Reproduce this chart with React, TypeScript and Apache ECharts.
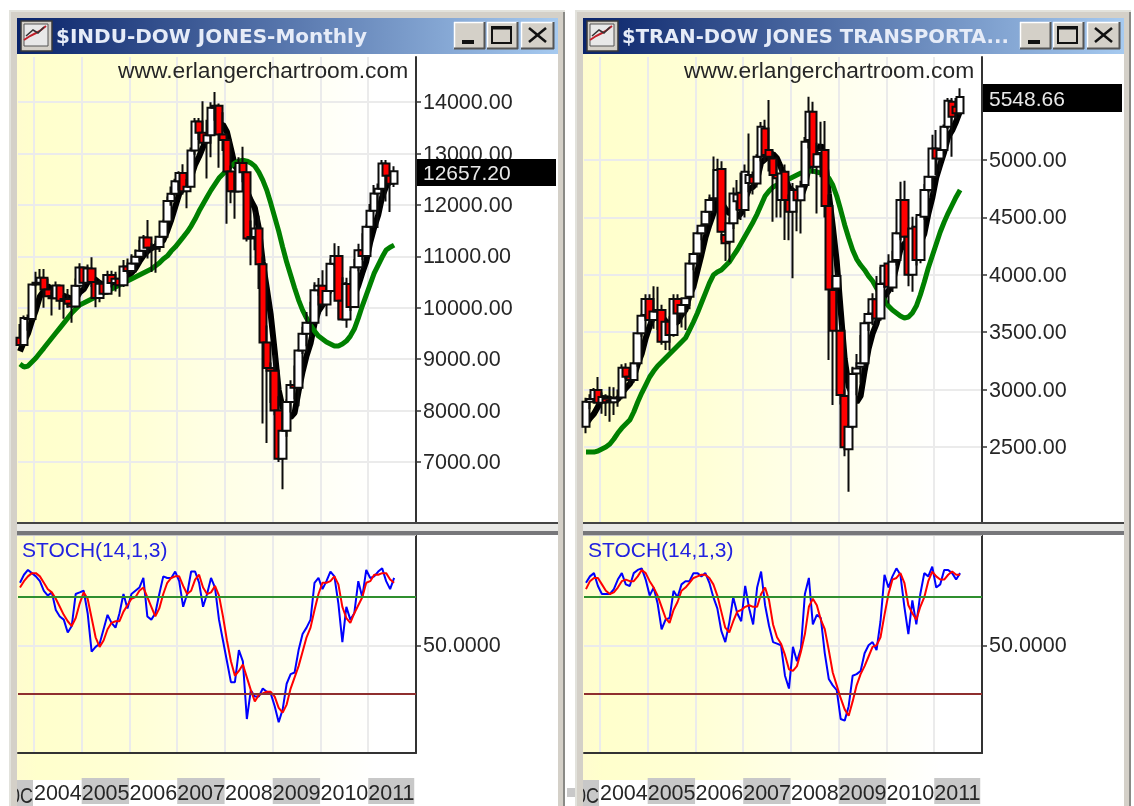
import React, { useEffect, useRef } from "react";
import * as echarts from "echarts";

// Each row: open, close, low, high
const induOHLC: number[][] = [
  [9416,9275,9250,9686],[9275,9801,9275,9853],[9801,9782,9555,9872],[9782,10453,9752,10454],
  [10453,10488,10418,10702],[10488,10583,10451,10754],[10583,10357,10000,10754],[10357,10225,10204,10570],
  [10225,10188,9852,10320],[10188,10435,10188,10514],[10435,10139,9961,10437],[10139,10173,9785,10243],
  [10173,10080,10000,10368],[10080,10027,9708,10239],[10027,10428,10027,10572],[10428,10783,10428,10868],
  [10783,10489,10368,10800],[10489,10766,10489,10842],[10766,10503,10405,10984],[10503,10192,10012,10570],
  [10192,10467,10109,10542],[10467,10275,10248,10656],[10275,10640,10275,10720],[10640,10481,10397,10719],
  [10481,10568,10319,10702],[10568,10440,10216,10568],[10440,10805,10406,10931],[10805,10717,10661,10959],
  [10717,10864,10667,11043],[10864,10993,10689,11137],[10993,11109,10901,11317],[11109,11367,11013,11418],
  [11367,11168,10961,11709],[11168,11150,10699,11258],[11150,11185,10683,11309],[11185,11381,11084,11382],
  [11381,11679,11362,11717],[11679,12080,11670,12167],[12080,12221,11986,12361],[12221,12463,12181,12511],
  [12463,12621,12282,12658],[12621,12268,12203,12795],[12268,12354,11939,12505],[12354,13062,12354,13121],
  [13062,13627,12980,13692],[13627,13408,13266,13692],[13408,13211,13205,14021],[13211,13357,12518,13657],
  [13357,13895,12930,14000],[13895,13930,13639,14198],[13930,13371,12724,13977],[13371,13264,13052,13803],
  [13264,12650,11635,13279],[12650,12266,12035,12767],[12266,12262,11731,12622],[12262,12820,12266,12930],
  [12820,12638,12443,13136],[12638,11350,11288,12638],[11350,11378,10827,11698],[11378,11543,11118,11867],
  [11543,10850,10365,11790],[10850,9325,7750,11000],[9325,8829,7370,9654],[8829,8776,8149,8934],
  [8776,8000,7909,9088],[8000,7062,7000,8280],[7062,7608,6469,7954],[7608,8168,7490,8221],
  [8168,8500,7961,8589],[8500,8447,8221,8878],[8447,9171,8087,9198],[9171,9496,9102,9630],
  [9496,9712,9252,9918],[9712,9712,9430,10119],[9712,10344,9678,10496],[10344,10428,10235,10580],
  [10428,10067,10025,10730],[10067,10325,9835,10401],[10325,10856,10325,10955],[10856,11008,10808,11258],
  [11008,10136,9774,11205],[10136,9774,9757,10594],[9774,10465,9614,10584],[10465,10014,9937,10720],
  [10014,10788,10014,10948],[10788,11118,10711,11245],[11118,11006,10929,11451],[11006,11577,11006,11625],
  [11577,11891,11576,12020],[11891,12226,11892,12391],[12226,12319,11555,12418],[12319,12810,12093,12876],
  [12810,12569,12071,12876],[12569,12414,11862,12569],[12414,12657,12350,12753],
];

const induFast = [9152,9342,9501,9745,9960,10221,10333,10421,10368,10358,10269,10232,10203,10171,10169,10298,10361,10499,10594,10547,10483,10441,10415,10411,10486,10481,10587,10602,10679,10764,10898,11010,11100,11157,11196,11250,11313,11495,11709,11965,12213,12331,12385,12554,12786,12944,13132,13333,13500,13560,13553,13563,13422,13096,12763,12652,12527,12267,12090,11946,11552,10889,10385,9865,9156,8398,8055,7923,7868,7957,8379,8756,9065,9308,9687,9938,10053,10175,10404,10537,10478,10420,10448,10279,10235,10432,10678,10901,11276,11564,11804,12165,12363,12468,12554];

const induSlow = [8906,8848,8867,8945,9023,9120,9217,9315,9412,9509,9606,9703,9800,9898,9976,10054,10092,10131,10170,10209,10248,10287,10326,10365,10404,10443,10481,10520,10559,10598,10637,10676,10715,10754,10812,10870,10948,11007,11104,11182,11279,11376,11474,11590,11726,11882,12018,12154,12290,12407,12524,12602,12680,12757,12816,12855,12874,12855,12816,12757,12640,12485,12290,12038,11765,11493,11182,10890,10637,10384,10151,9956,9800,9665,9548,9450,9392,9334,9295,9256,9256,9295,9353,9450,9587,9800,10034,10248,10462,10676,10832,10987,11123,11180,11220];

const induK = [89,94,97,95,93,90,84,81,83,72,68,66,58,62,82,83,84,70,46,49,51,60,69,64,61,70,82,73,82,84,86,92,68,66,70,82,93,92,92,96,90,74,82,96,96,89,74,82,92,86,66,53,40,27,27,47,40,4,22,18,18,23,21,20,12,2,10,26,32,33,47,57,61,66,89,92,85,90,96,93,76,52,74,66,70,90,80,97,92,93,96,98,90,85,92];

const induD = [86,90,93,95,95,93,89,85,83,79,74,69,65,62,67,76,83,79,67,55,49,53,60,64,65,65,71,75,79,80,84,86,80,74,68,73,82,89,92,93,93,87,82,84,91,94,86,82,83,87,81,68,53,40,31,34,38,30,22,15,19,20,21,21,18,11,8,13,23,30,37,46,55,61,72,82,89,89,90,93,88,74,67,64,70,75,80,89,90,94,94,95,95,91,89];

const tranOHLC: number[][] = [
  [2677,2895,2620,2930],[2895,2918,2830,2960],[2918,2996,2880,3015],[2996,2886,2870,3110],
  [2886,2935,2790,2975],[2920,2890,2770,2960],[2890,2900,2720,3025],[2890,2925,2780,3020],
  [2925,2932,2850,3000],[2932,3191,2925,3220],[3191,3112,3090,3230],[3112,3083,3040,3170],
  [3083,3229,3060,3240],[3229,3490,3200,3500],[3490,3644,3460,3660],[3649,3789,3620,3830],
  [3789,3606,3570,3830],[3606,3680,3530,3900],[3680,3693,3520,3896],[3693,3417,3390,3740],
  [3417,3591,3345,3620],[3591,3475,3340,3640],[3475,3789,3460,3830],[3789,3664,3560,3830],
  [3664,3737,3540,3760],[3737,3795,3520,3800],[3809,4099,3700,4130],[4099,4181,4040,4200],
  [4186,4361,4100,4380],[4361,4427,4300,4440],[4440,4549,4370,4560],[4549,4651,4450,4700],
  [4651,4666,4550,5030],[4666,4912,4640,5010],[4921,4375,4300,4990],[4346,4274,4120,4400],
  [4288,4448,4110,4500],[4448,4709,4400,4760],[4640,4700,4560,4825],[4715,4564,4477,4890],
  [4564,4898,4500,4960],[4800,4870,4720,5230],[4854,4796,4700,4900],[4796,5029,4760,5050],
  [5029,5290,4990,5330],[5275,5043,4980,5350],[5087,5029,4900,5522],[5014,4869,4462,5080],
  [4869,4840,4500,5000],[4651,4883,4500,4950],[4898,4651,4303,4960],[4651,4550,4300,4700],
  [4550,4738,3970,4800],[4738,4650,4380,4780],[4650,4770,4360,4820],[4782,5159,4760,5200],
  [5174,5420,5100,5551],[5420,4941,4880,5508],[4941,5050,4535,5150],[5060,5087,4850,5333],
  [5087,4600,4500,5340],[4600,3873,3258,4700],[3867,3513,2866,3960],[3880,3990,3500,4020],
  [3513,2953,2870,3560],[2944,2497,2420,3000],[2480,2677,2111,2700],[2677,3136,2660,3200],
  [3141,3185,2950,3310],[3200,3229,3060,3475],[3229,3577,3220,3600],[3583,3658,3510,3680],
  [3664,3786,3560,3840],[3786,3620,3550,3990],[3620,3920,3600,4070],[3925,4079,3890,4080],
  [4099,3896,3750,4180],[3890,4114,3850,4210],[4128,4361,4080,4380],[4361,4651,4300,4811],
  [4651,4332,4280,4820],[4332,4000,3900,4410],[4000,4404,3853,4505],[4419,4128,4080,4500],
  [4128,4521,4100,4540],[4506,4738,4480,4790],[4738,4854,4720,4860],[4854,5101,4700,5220],
  [5101,5014,4870,5261],[5014,5087,4900,5100],[5087,5290,5080,5310],[5290,5516,5270,5540],
  [5508,5377,5029,5540],[5464,5406,5360,5540],[5406,5548.66,5390,5624],
];

const tranFast = [2700,2750,2790,2850,2926,2925,2921,2907,2916,2968,3012,3049,3109,3221,3312,3447,3552,3642,3682,3637,3597,3571,3593,3587,3651,3692,3817,3895,4035,4173,4323,4434,4531,4641,4631,4576,4535,4544,4501,4539,4664,4748,4766,4831,4977,5006,5037,5052,5014,4933,4854,4759,4732,4694,4672,4773,4947,4988,5068,5131,5020,4710,4425,4115,3688,3267,3028,2953,2890,2945,3161,3357,3487,3574,3712,3813,3860,3926,4074,4220,4271,4292,4350,4303,4277,4358,4529,4668,4846,4959,5069,5202,5257,5335,5427];

const tranSlow = [2456,2456,2456,2465,2483,2500,2526,2570,2622,2665,2700,2735,2805,2892,2970,3040,3110,3162,3206,3240,3275,3310,3345,3380,3415,3449,3519,3589,3667,3754,3841,3928,3998,4024,4042,4077,4111,4164,4216,4277,4338,4399,4460,4529,4608,4686,4730,4765,4782,4799,4817,4834,4852,4869,4886,4895,4904,4904,4895,4886,4869,4843,4782,4686,4564,4434,4320,4216,4137,4085,4042,3989,3946,3885,3824,3780,3728,3693,3667,3641,3624,3632,3667,3728,3824,3937,4059,4164,4268,4373,4460,4538,4608,4678,4739];

const tranK = [89,93,95,87,82,82,82,85,91,95,88,87,95,97,98,91,81,86,76,60,66,67,84,80,88,90,90,95,95,93,95,89,80,73,59,52,64,80,70,65,87,73,63,86,96,75,62,52,51,50,31,23,49,40,48,82,92,63,69,67,45,29,25,22,4,3,12,31,32,34,45,50,52,47,65,94,86,93,98,94,74,57,78,63,82,95,93,99,86,88,97,97,95,91,95];

const tranD = [85,90,92,92,88,84,82,83,86,90,91,90,90,93,97,95,90,86,81,74,67,64,72,77,84,86,89,92,93,94,94,92,88,81,71,61,58,65,71,72,74,75,74,74,82,86,78,63,55,51,44,35,34,37,46,57,74,79,75,66,60,47,33,25,17,10,6,15,25,32,37,43,49,50,55,69,82,91,92,95,89,75,70,66,74,80,90,96,93,91,91,94,96,94,94];

const months = Array.from({ length: 100 }, (_, i) => `m${i}`);
const labelSlots = Array.from({ length: 101 }, (_, i) => `s${i}`);
const yearStarts = [4, 16, 28, 40, 52, 64, 76, 88];
const yearLabels: Record<number, string> = { 4: "2004", 16: "2005", 28: "2006", 40: "2007", 52: "2008", 64: "2009", 76: "2010", 88: "2011" };
const shadedYears = [16, 40, 64, 88];
const clippedLabel = "0C";
const induTicks = [7000, 8000, 9000, 10000, 11000, 12000, 13000, 14000];
const tranTicks = [2500, 3000, 3500, 4000, 4500, 5000];
const stochTicks = [50];
const stochBands = [80, 20];

const F = "'Liberation Sans', Arial, sans-serif";
const TXT = "#262626";
const GRID = "#ebebeb";
const AXIS = "#333333";

const bgGradient = () =>
  new echarts.graphic.LinearGradient(0, 0, 1, 0, [
    { offset: 0, color: "#fffccf" },
    { offset: 0.05, color: "#ffffcc" },
    { offset: 0.3, color: "#ffffd6" },
    { offset: 0.48, color: "#ffffe4" },
    { offset: 0.72, color: "#fffff2" },
    { offset: 0.9, color: "#ffffff" },
    { offset: 1, color: "#ffffff" },
  ]);

function windowChrome(dx: number, title: string, titleSize: number, lastValue: string, tagTop: number, tagH: number): any[] {
  const c: any[] = [];
  const R = (x: number, y: number, w: number, h: number, fill: any, z = -2, extra: any = {}) =>
    c.push({ type: "rect", shape: { x: x + dx, y, width: w, height: h }, style: { fill, ...extra }, z, silent: true });
  const L = (x1: number, y1: number, x2: number, y2: number, stroke: string, lineWidth: number, z = 5) =>
    c.push({ type: "line", shape: { x1: x1 + dx, y1, x2: x2 + dx, y2 }, style: { stroke, lineWidth }, z, silent: true });

  R(9, 10, 556, 796, "#e2e2dc");
  R(11, 12, 554, 794, "#d4d0c8");
  R(17, 18, 541, 788, "#ffffff");
  R(563, 12, 2, 794, "#8a8a86");
  // title bar
  R(17, 18, 541, 36, new echarts.graphic.LinearGradient(0, 0, 1, 0, [
    { offset: 0, color: "#0a246a" },
    { offset: 1, color: "#a6caf0" },
  ]));
  // icon
  R(21, 21, 31, 30, "#d4d0c8", -1, { stroke: "#3a3a3a", lineWidth: 1.5 });
  R(24, 24, 24, 22, "#e8e8e8", -1, { stroke: "#555", lineWidth: 1 });
  c.push({ type: "polyline", shape: { points: [[24 + dx, 40], [30 + dx, 36], [36 + dx, 33], [41 + dx, 30], [46 + dx, 26]] }, style: { stroke: "#c0202a", lineWidth: 2, fill: "none" }, z: -1, silent: true });
  c.push({ type: "polyline", shape: { points: [[26 + dx, 36], [33 + dx, 30], [38 + dx, 33], [44 + dx, 27]] }, style: { stroke: "#333", lineWidth: 1.5, fill: "none" }, z: -1, silent: true });
  c.push({
    type: "text", x: 56 + dx, y: 36, z: 6, silent: true,
    style: { text: title, fill: "#e6ecf8", fontFamily: "'DejaVu Sans', sans-serif", fontWeight: "bold", fontSize: titleSize, verticalAlign: "middle", align: "left" },
  });
  // buttons
  const btn = (x: number, w: number) => {
    R(x, 22, w, 27, "#d4d0c8", -1);
    L(x, 22.5, x + w, 22.5, "#ffffff", 1.5);
    L(x + 0.5, 22, x + 0.5, 49, "#ffffff", 1.5);
    L(x, 48.5, x + w, 48.5, "#555555", 2);
    L(x + w - 0.5, 22, x + w - 0.5, 49, "#555555", 2);
  };
  btn(454, 31);
  btn(487, 31);
  btn(521, 33);
  R(462, 40, 12, 4, "#111", 6);
  c.push({ type: "rect", shape: { x: 492 + dx, y: 27, width: 19, height: 16 }, style: { fill: "none", stroke: "#111", lineWidth: 2 }, z: 6, silent: true });
  L(492, 28, 511, 28, "#111", 3, 6);
  L(529, 28, 546, 42, "#111", 2.5, 6);
  L(546, 28, 529, 42, "#111", 2.5, 6);

  // pane backgrounds
  const paneBg = (y: number, h: number) =>
    c.push({ type: "rect", shape: { x: 17 + dx, y, width: 399, height: h }, style: { fill: bgGradient() }, z: -1, silent: true });
  paneBg(54, 468);
  paneBg(535, 245);

  // splitter
  R(17, 524, 541, 7, "#e9e9e6", 6);
  R(17, 531, 541, 4, "#77777a", 6);
  R(17, 522, 541, 2, "#444444", 6);
  R(17, 535, 399, 1, "#c8c8c8", 6);

  // watermark
  c.push({
    type: "text", x: 118 + dx, y: 70, z: 6, silent: true,
    style: { text: "www.erlangerchartroom.com", fill: TXT, fontFamily: F, fontSize: 22.8, verticalAlign: "middle", align: "left" },
  });
  // legend of lower pane
  c.push({
    type: "text", x: 22 + dx, y: 549, z: 6, silent: true,
    style: { text: "STOCH(14,1,3)", fill: "#2222e0", fontFamily: F, fontSize: 21, verticalAlign: "middle", align: "left" },
  });
  // clipped first year label, whose left part runs under the window frame
  R(17, 780, 16, 26, "#c8c8c8", -1);
  c.push({
    type: "text", x: 10 + dx, y: 795, z: -0.5, silent: true, scaleY: 1.2,
    style: { text: clippedLabel, fill: TXT, fontFamily: F, fontSize: 18, verticalAlign: "middle", align: "left" },
  });
  R(9, 770, 2, 36, "#e2e2dc", 0);
  R(11, 770, 6, 36, "#d4d0c8", 0);
  // last value tag
  c.push({ type: "rect", shape: { x: 417 + dx, y: tagTop, width: 139, height: tagH }, style: { fill: "#000" }, z: 50, silent: true });
  c.push({
    type: "text", x: 423 + dx, y: tagTop + tagH / 2, z: 51, silent: true,
    style: { text: lastValue, fill: "#e8e8e8", fontFamily: F, fontSize: 21, verticalAlign: "middle", align: "left" },
  });
  return c;
}

function panes(idx: number, dx: number, ohlc: number[][], fast: number[], slow: number[], k: number[], d: number[], ticks: number[], min: number, max: number) {
  const ax = idx * 3;
  const ay = idx * 2;
  const gm = idx * 2;
  const gs = gm + 1;
  const isYear = (i: number) => yearStarts.includes(i);
  const vGrid = { show: true, interval: (i: number) => isYear(i), lineStyle: { color: GRID, width: 2 } };
  const yLabel = (digits: number) => ({
    fontFamily: F, fontSize: 21.5, color: TXT, margin: 7,
    formatter: (v: number) => v.toFixed(digits),
  });
  const grids = [
    { left: 18 + dx, top: 57, width: 398, height: 465 },
    { left: 18 + dx, top: 535, width: 398, height: 218 },
  ];
  const xAxes = [
    { type: "category", gridIndex: gm, data: months, position: "bottom", boundaryGap: true, axisLabel: { show: false }, axisTick: { show: false }, axisLine: { show: false }, splitLine: vGrid },
    { type: "category", gridIndex: gs, data: months, position: "bottom", boundaryGap: true, axisLabel: { show: false }, axisTick: { show: false }, axisLine: { show: true, onZero: false, lineStyle: { color: AXIS, width: 2 } }, splitLine: vGrid },
    {
      type: "category", gridIndex: gs, data: labelSlots, position: "bottom", boundaryGap: false,
      axisLine: { show: false }, axisTick: { show: false }, splitLine: { show: false },
      axisLabel: {
        show: true, margin: 27, align: "left", verticalAlign: "top", showMinLabel: true, showMaxLabel: true,
        interval: (i: number) => yearLabels[i] !== undefined,
        formatter: (_: string, i: number) => `{${i === 88 ? "l" : shadedYears.includes(i) ? "g" : "w"}|${yearLabels[i]}}`,
        rich: {
          g: { width: 47.4, height: 22, lineHeight: 22, padding: [4, 0, 0, 0], backgroundColor: "#c8c8c8", fontFamily: F, fontSize: 21.5, color: TXT, align: "left" },
          w: { width: 47.4, height: 22, lineHeight: 22, padding: [4, 0, 0, 0], fontFamily: F, fontSize: 21.5, color: TXT, align: "left" },
          l: { width: 46, height: 22, lineHeight: 22, padding: [4, 0, 0, 0], backgroundColor: "#c8c8c8", fontFamily: F, fontSize: 21.5, color: TXT, align: "left" },
        },
      },
    },
  ];
  const yAxes = [
    {
      type: "value", gridIndex: gm, position: "right", min, max, scale: true,
      axisLine: { show: true, onZero: false, lineStyle: { color: AXIS, width: 2 } },
      axisTick: { show: true, length: 5, lineStyle: { color: AXIS, width: 1.5 }, customValues: ticks },
      axisLabel: { ...yLabel(2), customValues: ticks },
      splitLine: { show: true, lineStyle: { color: GRID, width: 2 } },
    },
    {
      type: "value", gridIndex: gs, position: "right", min: -17.2, max: 118.8,
      axisLine: { show: true, onZero: false, lineStyle: { color: AXIS, width: 2 } },
      axisTick: { show: true, length: 5, lineStyle: { color: AXIS, width: 1.5 }, customValues: stochTicks },
      axisLabel: { ...yLabel(4), customValues: stochTicks },
      splitLine: { show: true, lineStyle: { color: GRID, width: 2 } },
    },
  ];
  const line = (name: string, data: number[], xi: number, yi: number, color: string, width: number, z: number, extra: any = {}) => ({
    name, type: "line", xAxisIndex: xi, yAxisIndex: yi, data, symbol: "none", z, clip: true, animation: false,
    lineStyle: { color, width, cap: "butt", join: "bevel" }, itemStyle: { color }, ...extra,
  });
  const series = [
    line("fast", fast, ax, ay, "#000000", 6, 2),
    line("slow", slow, ax, ay, "#008000", 5, 3),
    {
      name: "price", type: "candlestick", xAxisIndex: ax, yAxisIndex: ay, data: ohlc, z: 4, barWidth: 8, animation: false, clip: true,
      itemStyle: { color: "#ffffff", color0: "#ff0000", borderColor: "#0c0c0c", borderColor0: "#0c0c0c", borderWidth: 2 },
    },
    line("k", k, ax + 1, ay + 1, "#0000ff", 2, 3, {
      markLine: {
        silent: true, symbol: "none", animation: false, label: { show: false },
        lineStyle: { width: 2, type: "solid" },
        data: [
          { yAxis: stochBands[0], lineStyle: { color: "#2f8f2f" } },
          { yAxis: stochBands[1], lineStyle: { color: "#8f2f2f" } },
        ],
      },
    }),
    line("d", d, ax + 1, ay + 1, "#ff0000", 2, 4),
  ];
  return { grids, xAxes, yAxes, series };
}

export default function App() {
  const ref = useRef<HTMLDivElement>(null);
  useEffect(() => {
    document.body.style.margin = "0";
    document.body.style.background = "#fff";
    const chart = echarts.init(ref.current!, undefined, { renderer: "svg" });
    const a = panes(0, 0, induOHLC, induFast, induSlow, induK, induD, induTicks, 5833, 14880);
    const b = panes(1, 566, tranOHLC, tranFast, tranSlow, tranK, tranD, tranTicks, 1847, 5897);
    chart.setOption({
      animation: false,
      backgroundColor: "#ffffff",
      tooltip: { show: false },
      legend: { show: false },
      grid: [...a.grids, ...b.grids],
      xAxis: [...a.xAxes, ...b.xAxes],
      yAxis: [...a.yAxes, ...b.yAxes],
      series: [...a.series, ...b.series],
      graphic: {
        elements: [
          ...windowChrome(0, "$INDU-DOW JONES-Monthly", 20, "12657.20", 159, 27),
          ...windowChrome(566, "$TRAN-DOW JONES TRANSPORTA...", 19.6, "5548.66", 84, 28),
          { type: "rect", shape: { x: 567, y: 788, width: 8, height: 9 }, style: { fill: "#c8c8c8" }, z: 1, silent: true },
        ],
      },
    });
    return () => chart.dispose();
  }, []);
  return <div ref={ref} style={{ width: 1134, height: 806, overflow: "hidden", filter: "blur(0.45px)" }} />;
}
